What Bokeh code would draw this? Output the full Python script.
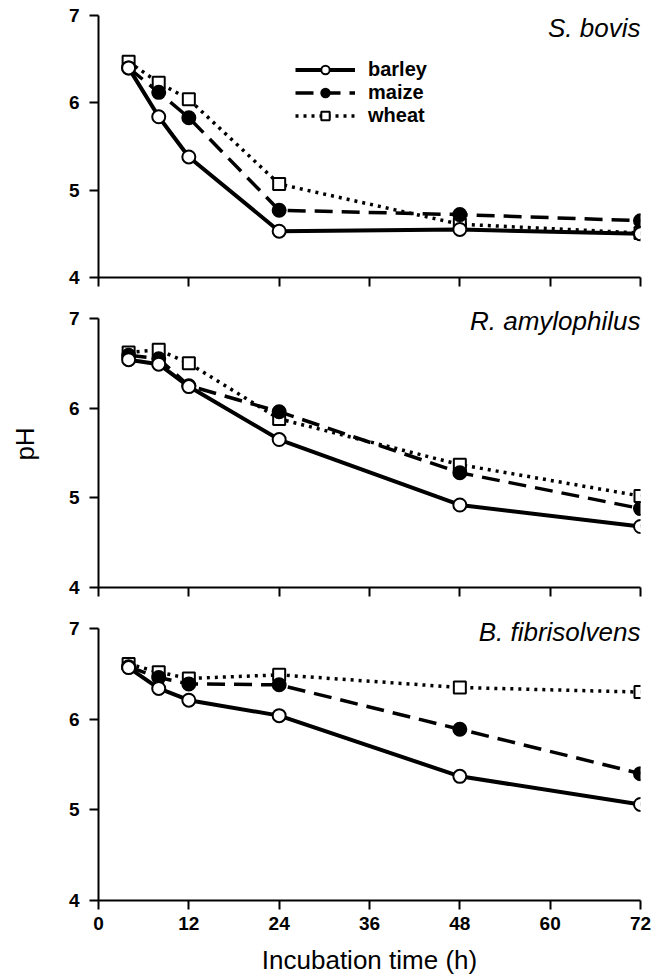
from bokeh.plotting import figure
from bokeh.models import (FixedTicker, Label, Legend, LegendItem, Range1d)
from bokeh.layouts import column
from bokeh.embed import file_html
from bokeh.resources import INLINE

# ---- data ----
time_h = [4, 8, 12, 24, 48, 72]
x_ticks = [0, 12, 24, 36, 48, 60, 72]
y_ticks = [4, 5, 6, 7]
panel_names = ["S. bovis", "R. amylophilus", "B. fibrisolvens"]

barley_sb = [6.40, 5.84, 5.38, 4.53, 4.55, 4.50]
maize_sb = [6.40, 6.12, 5.83, 4.77, 4.72, 4.65]
wheat_sb = [6.47, 6.23, 6.04, 5.07, 4.61, 4.51]

barley_ra = [6.54, 6.49, 6.24, 5.65, 4.92, 4.68]
maize_ra = [6.59, 6.55, 6.25, 5.96, 5.28, 4.88]
wheat_ra = [6.62, 6.65, 6.50, 5.88, 5.37, 5.02]

barley_bf = [6.57, 6.34, 6.21, 6.04, 5.37, 5.06]
maize_bf = [6.58, 6.46, 6.39, 6.38, 5.89, 5.40]
wheat_bf = [6.61, 6.52, 6.45, 6.49, 6.35, 6.30]

panels = [
    (barley_sb, maize_sb, wheat_sb),
    (barley_ra, maize_ra, wheat_ra),
    (barley_bf, maize_bf, wheat_bf),
]

FONT = "Liberation Sans"
y_tops = [7.0, 7.2, 7.2]
frame_heights = [262, 287, 290]
top_borders = [15, 3, 3]
bottom_borders = [20, 20, 74]
title_offsets = [-12, -3, -3]

figs = []
for i, (barley, maize, wheat) in enumerate(panels):
    p = figure(width=None, height=None, frame_width=542, frame_height=frame_heights[i],
               x_range=Range1d(0, 72), y_range=Range1d(4, y_tops[i]),
               output_backend="svg", toolbar_location=None,
               min_border_left=98, min_border_right=21,
               min_border_top=top_borders[i], min_border_bottom=bottom_borders[i])
    p.outline_line_color = None
    p.xgrid.visible = False
    p.ygrid.visible = False
    p.background_fill_color = "white"

    for ax in (p.xaxis, p.yaxis):
        ax.axis_line_width = 2
        ax.axis_line_color = "black"
        ax.major_tick_line_width = 2
        ax.major_tick_line_color = "black"
        ax.major_tick_in = 0
        ax.major_tick_out = 9
        ax.minor_tick_line_color = None
        ax.major_label_text_font = FONT
        ax.major_label_text_font_style = "bold"
        ax.major_label_text_font_size = "19px"
        ax.major_label_text_color = "black"
    p.xaxis.ticker = FixedTicker(ticks=x_ticks)
    p.yaxis.ticker = FixedTicker(ticks=y_ticks)
    p.yaxis.bounds = (4, 7)
    p.yaxis.major_label_standoff = 10
    if i < 2:
        p.xaxis.major_label_overrides = {t: "" for t in x_ticks}
        p.xaxis.major_label_text_font_size = "0px"
        p.xaxis.major_label_standoff = 0
    else:
        p.xaxis.major_label_standoff = 7
        p.xaxis.axis_label = "Incubation time (h)"
        p.xaxis.axis_label_text_font = FONT
        p.xaxis.axis_label_text_font_style = "normal"
        p.xaxis.axis_label_text_font_size = "26px"
        p.xaxis.axis_label_standoff = 12
        p.xaxis.axis_label_text_color = "black"
    if i == 1:
        p.yaxis.axis_label = "pH"
        p.yaxis.axis_label_text_font = FONT
        p.yaxis.axis_label_text_font_style = "normal"
        p.yaxis.axis_label_text_font_size = "26px"
        p.yaxis.axis_label_standoff = 26
        p.yaxis.axis_label_text_color = "black"

    lb = p.line(time_h, barley, line_color="black", line_width=4)
    lm = p.line(time_h, maize, line_color="black", line_width=3.5, line_dash="18 9")
    lw = p.line(time_h, wheat, line_color="black", line_width=3.5, line_dash="3 5")
    sw = p.scatter(time_h, wheat, marker="square", size=12, fill_color="white",
                   line_color="black", line_width=2)
    sm = p.scatter(time_h, maize, marker="circle", size=13, fill_color="black",
                   line_color="black", line_width=2)
    sb = p.scatter(time_h, barley, marker="circle", size=13, fill_color="white",
                   line_color="black", line_width=2)

    p.add_layout(Label(x=72, y=7, text=panel_names[i], text_align="right",
                       text_baseline="middle", y_offset=title_offsets[i],
                       text_font=FONT, text_font_style="italic",
                       text_font_size="26px", text_color="black"))

    if i == 0:
        legend = Legend(items=[
            LegendItem(label="barley", renderers=[lb, sb]),
            LegendItem(label="maize", renderers=[lm, sm]),
            LegendItem(label="wheat", renderers=[lw, sw]),
        ], location=(197, 150))
        legend.padding = 0
        legend.margin = 0
        legend.spacing = 0
        legend.glyph_width = 60
        legend.glyph_height = 21
        legend.label_height = 21
        legend.label_standoff = 13
        legend.label_text_font = FONT
        legend.label_text_font_style = "bold"
        legend.label_text_font_size = "20px"
        legend.label_text_line_height = 1.0
        legend.label_text_color = "black"
        legend.background_fill_alpha = 0
        legend.border_line_color = None
        p.add_layout(legend, "center")
    figs.append(p)

layout = column(*figs, spacing=0)
open("out.html", "w").write(file_html(layout, INLINE))
